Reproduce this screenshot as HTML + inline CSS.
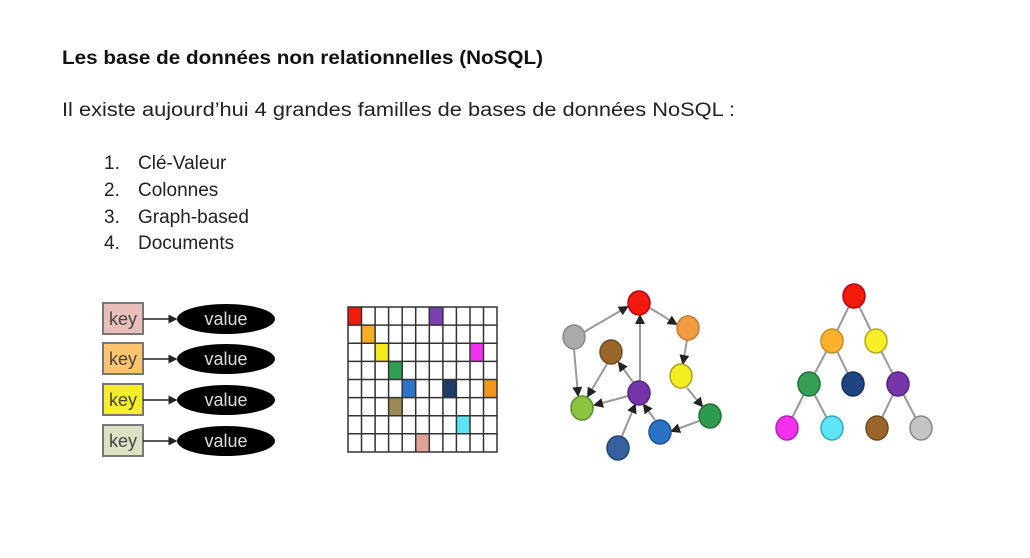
<!DOCTYPE html>
<html><head><meta charset="utf-8"><style>
html,body{margin:0;padding:0;background:#fff;width:1030px;height:558px;overflow:hidden}
svg{display:block}
text{font-family:"Liberation Sans",Arial,sans-serif}
</style></head><body>
<svg width="1030" height="558" viewBox="0 0 1030 558" xmlns="http://www.w3.org/2000/svg">
<defs>
<marker id="a" markerWidth="6" markerHeight="6" refX="5" refY="3" orient="auto"><path d="M0,0 L6,3 L0,6z" fill="#222"/></marker>
<marker id="g" markerWidth="5" markerHeight="5" refX="4" refY="2.5" orient="auto"><path d="M0,0 L5,2.5 L0,5z" fill="#222"/></marker>
</defs>
<text x="62" y="64" font-size="19" font-weight="bold" fill="#111" textLength="481" lengthAdjust="spacingAndGlyphs">Les base de données non relationnelles (NoSQL)</text>
<text x="62" y="116" font-size="19" fill="#222" textLength="673" lengthAdjust="spacingAndGlyphs">Il existe aujourd’hui 4 grandes familles de bases de données NoSQL :</text>
<g font-size="19" fill="#222">
<text x="104" y="169">1.</text><text x="138" y="169">Clé-Valeur</text>
<text x="104" y="196">2.</text><text x="138" y="196">Colonnes</text>
<text x="104" y="223">3.</text><text x="138" y="223">Graph-based</text>
<text x="104" y="249">4.</text><text x="138" y="249">Documents</text>
</g>
<g font-size="18">
<g><rect x="103" y="303" width="40" height="31" fill="#e8beb8" stroke="#777" stroke-width="2"/><text x="123" y="325" text-anchor="middle" fill="#444">key</text>
<line x1="143" y1="319" x2="176" y2="319" stroke="#222" stroke-width="1.5" marker-end="url(#a)"/>
<ellipse cx="226" cy="319" rx="49" ry="15" fill="#000"/><text x="226" y="325" text-anchor="middle" fill="#ddd">value</text></g>
<g><rect x="103" y="343" width="40" height="31" fill="#fbc46d" stroke="#777" stroke-width="2"/><text x="123" y="365" text-anchor="middle" fill="#444">key</text>
<line x1="143" y1="359" x2="176" y2="359" stroke="#222" stroke-width="1.5" marker-end="url(#a)"/>
<ellipse cx="226" cy="359" rx="49" ry="15" fill="#000"/><text x="226" y="365" text-anchor="middle" fill="#ddd">value</text></g>
<g><rect x="103" y="384" width="40" height="31" fill="#f7ee2a" stroke="#777" stroke-width="2"/><text x="123" y="406" text-anchor="middle" fill="#444">key</text>
<line x1="143" y1="400" x2="176" y2="400" stroke="#222" stroke-width="1.5" marker-end="url(#a)"/>
<ellipse cx="226" cy="400" rx="49" ry="15" fill="#000"/><text x="226" y="406" text-anchor="middle" fill="#ddd">value</text></g>
<g><rect x="103" y="425" width="40" height="31" fill="#dbe2c4" stroke="#777" stroke-width="2"/><text x="123" y="447" text-anchor="middle" fill="#444">key</text>
<line x1="143" y1="441" x2="176" y2="441" stroke="#222" stroke-width="1.5" marker-end="url(#a)"/>
<ellipse cx="226" cy="441" rx="49" ry="15" fill="#000"/><text x="226" y="447" text-anchor="middle" fill="#ddd">value</text></g>
</g>
<g>
<rect x="348.0" y="307" width="13.5" height="18.1" fill="#f31a0a"/>
<rect x="429.3" y="307" width="13.5" height="18.1" fill="#7a3fb0"/>
<rect x="361.5" y="325.1" width="13.5" height="18.1" fill="#f9ad23"/>
<rect x="375.1" y="343.2" width="13.5" height="18.1" fill="#f5ea1e"/>
<rect x="470.0" y="343.2" width="13.5" height="18.1" fill="#f331f0"/>
<rect x="388.6" y="361.4" width="13.5" height="18.1" fill="#2e9e52"/>
<rect x="402.2" y="379.5" width="13.5" height="18.1" fill="#2d73c9"/>
<rect x="442.9" y="379.5" width="13.5" height="18.1" fill="#1d3c69"/>
<rect x="483.5" y="379.5" width="13.5" height="18.1" fill="#f3941c"/>
<rect x="388.6" y="397.6" width="13.5" height="18.1" fill="#9a8a54"/>
<rect x="456.4" y="415.7" width="13.5" height="18.1" fill="#5ae3f4"/>
<rect x="415.7" y="433.8" width="13.5" height="18.1" fill="#e0a398"/>
</g>
<g stroke="#333" stroke-width="1.5" fill="none">
<rect x="348" y="307" width="149" height="145"/>
<path d="M361.5,307V452M375.1,307V452M388.6,307V452M402.2,307V452M415.7,307V452M429.3,307V452M442.9,307V452M456.4,307V452M470,307V452M483.5,307V452"/>
<path d="M348,325.1H497M348,343.2H497M348,361.4H497M348,379.5H497M348,397.6H497M348,415.7H497M348,433.8H497"/>
</g>
<g stroke="#999" stroke-width="2" fill="none" marker-end="url(#g)">
<line x1="584" y1="332" x2="627" y2="307"/>
<line x1="650" y1="308" x2="676" y2="324"/>
<line x1="687" y1="340" x2="683" y2="363"/>
<line x1="687" y1="388" x2="702" y2="406"/>
<line x1="699" y1="421" x2="672" y2="431"/>
<line x1="655" y1="420" x2="644" y2="405"/>
<line x1="622" y1="436" x2="635" y2="405"/>
<line x1="640" y1="381" x2="640" y2="316"/>
<line x1="633" y1="382" x2="619" y2="363"/>
<line x1="628" y1="396" x2="595" y2="405"/>
<line x1="607" y1="364" x2="588" y2="396"/>
<line x1="574" y1="349" x2="578" y2="395"/>
</g>
<g stroke-width="1.5">
<ellipse cx="639" cy="303" rx="11" ry="12" fill="#f21a0c" stroke="#b01"/>
<ellipse cx="574" cy="337" rx="11" ry="12" fill="#aaa" stroke="#888"/>
<ellipse cx="688" cy="328" rx="11" ry="12" fill="#f29a40" stroke="#c77a30"/>
<ellipse cx="611" cy="352" rx="11" ry="12" fill="#9a652a" stroke="#6e4a20"/>
<ellipse cx="681" cy="376" rx="11" ry="12" fill="#f5ee1f" stroke="#a9a020"/>
<ellipse cx="639" cy="393" rx="11" ry="12" fill="#7535a8" stroke="#552580"/>
<ellipse cx="582" cy="408" rx="11" ry="12" fill="#8cc441" stroke="#5c8a30"/>
<ellipse cx="710" cy="416" rx="11" ry="12" fill="#2e9a4c" stroke="#1f6e36"/>
<ellipse cx="660" cy="432" rx="11" ry="12" fill="#2a72c6" stroke="#1d5090"/>
<ellipse cx="618" cy="448" rx="11" ry="12" fill="#34609e" stroke="#244570"/>
</g>
<g stroke="#999" stroke-width="2">
<line x1="854" y1="296" x2="832" y2="341"/><line x1="854" y1="296" x2="876" y2="341"/>
<line x1="832" y1="341" x2="809" y2="384"/><line x1="832" y1="341" x2="853" y2="384"/>
<line x1="876" y1="341" x2="898" y2="384"/>
<line x1="809" y1="384" x2="787" y2="428"/><line x1="809" y1="384" x2="832" y2="428"/>
<line x1="898" y1="384" x2="877" y2="428"/><line x1="898" y1="384" x2="921" y2="428"/>
</g>
<g stroke-width="1.5">
<ellipse cx="854" cy="296" rx="11" ry="12" fill="#f21a0c" stroke="#b01"/>
<ellipse cx="832" cy="341" rx="11" ry="12" fill="#fbb22a" stroke="#c88a20"/>
<ellipse cx="876" cy="341" rx="11" ry="12" fill="#f7ee2a" stroke="#b0a820"/>
<ellipse cx="809" cy="384" rx="11" ry="12" fill="#33a055" stroke="#22703a"/>
<ellipse cx="853" cy="384" rx="11" ry="12" fill="#1e4580" stroke="#153060"/>
<ellipse cx="898" cy="384" rx="11" ry="12" fill="#7636aa" stroke="#552580"/>
<ellipse cx="787" cy="428" rx="11" ry="12" fill="#f531ef" stroke="#b020b0"/>
<ellipse cx="832" cy="428" rx="11" ry="12" fill="#5ee6f7" stroke="#30a8b8"/>
<ellipse cx="877" cy="428" rx="11" ry="12" fill="#9a652a" stroke="#6e4a20"/>
<ellipse cx="921" cy="428" rx="11" ry="12" fill="#c4c4c4" stroke="#888"/>
</g>
</svg>
</body></html>
